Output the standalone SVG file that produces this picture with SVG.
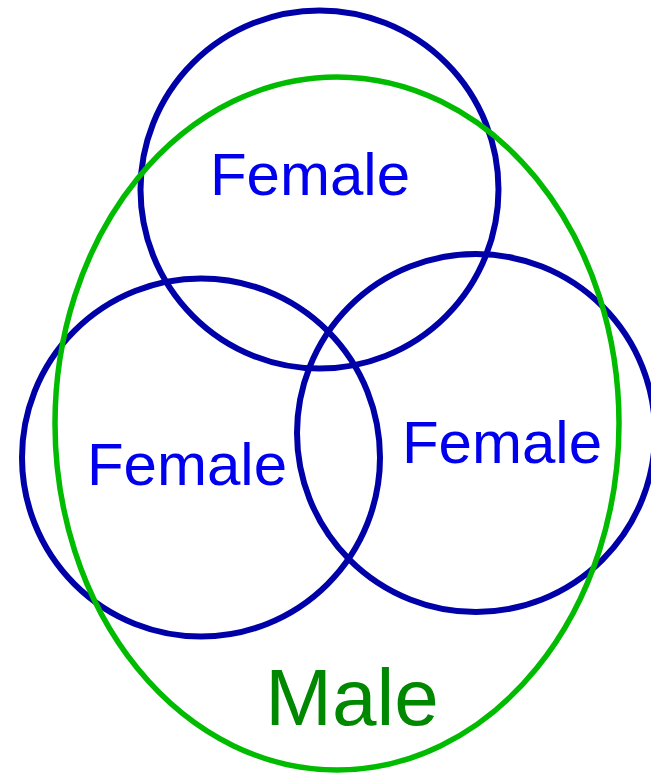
<svg xmlns="http://www.w3.org/2000/svg" width="651" height="775" viewBox="0 0 651 775">
<style>
.c{fill:none;stroke:#0000A8;stroke-width:6}
.m{fill:none;stroke:#00BB00;stroke-width:5.5}
.f{font-family:"Liberation Sans",Arial,sans-serif;font-size:60px;fill:#0000EE;text-anchor:middle}
.ml{font-family:"Liberation Sans",Arial,sans-serif;font-size:80px;fill:#008800;text-anchor:middle}
</style>
<rect width="651" height="775" fill="#fff"/>
<g id="female-top"><circle class="c" cx="319.5" cy="189.5" r="179"/></g>
<g id="female-left"><circle class="c" cx="201" cy="457.5" r="179"/></g>
<g id="female-right"><circle class="c" cx="476" cy="433" r="179"/></g>
<g id="male"><ellipse class="m" cx="337" cy="423.5" rx="282" ry="346.5"/></g>
<g id="labels">
<text class="f" x="310" y="195">Female</text>
<text class="f" x="187" y="485">Female</text>
<text class="f" x="502" y="463">Female</text>
<text class="ml" x="352" y="725">Male</text>
</g>
</svg>
